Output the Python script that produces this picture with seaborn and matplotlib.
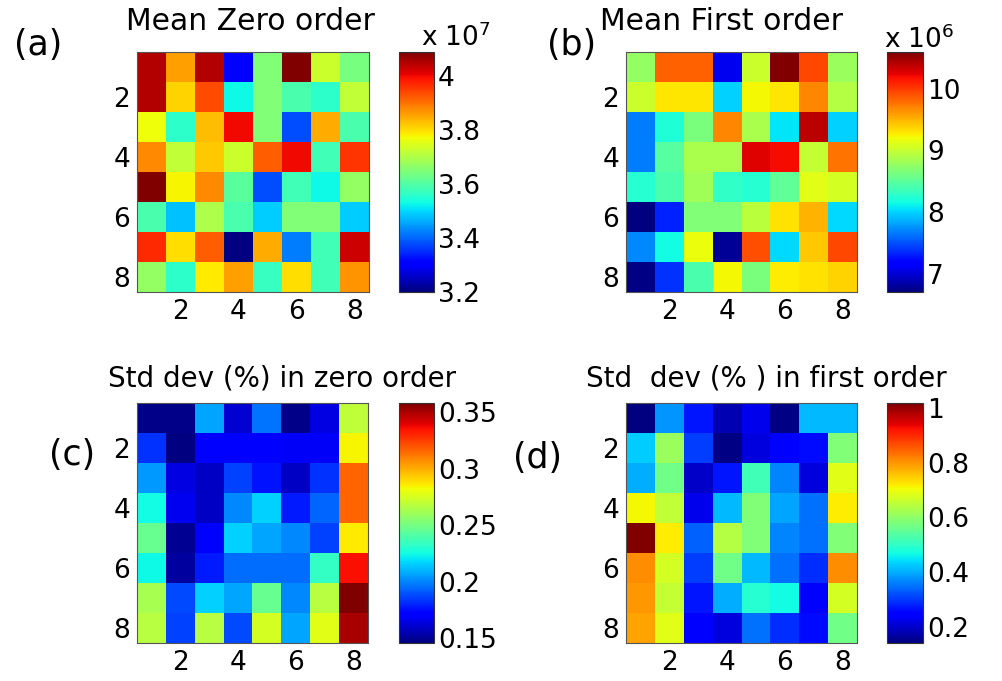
import numpy as np
import matplotlib
matplotlib.use("Agg")
import matplotlib.pyplot as plt
import seaborn as sns

# 8 x 8 detector pixel maps (rows top to bottom, columns left to right)
mean_zero_e7 = [
    [4.05, 3.86, 4.05, 3.30, 3.65, 4.09, 3.73, 3.64],
    [4.05, 3.81, 3.94, 3.53, 3.65, 3.59, 3.56, 3.72],
    [3.77, 3.56, 3.83, 4.00, 3.65, 3.38, 3.85, 3.59],
    [3.88, 3.72, 3.82, 3.73, 3.92, 4.00, 3.58, 3.96],
    [4.09, 3.78, 3.88, 3.61, 3.38, 3.58, 3.53, 3.67],
    [3.59, 3.48, 3.70, 3.59, 3.49, 3.65, 3.65, 3.49],
    [3.97, 3.80, 3.92, 3.20, 3.85, 3.42, 3.58, 4.03],
    [3.67, 3.56, 3.79, 3.86, 3.57, 3.80, 3.58, 3.87],
]
mean_first_e6 = [
    [8.76, 9.84, 9.84, 7.09, 9.03, 10.60, 9.96, 8.80],
    [9.03, 9.30, 9.30, 7.98, 9.22, 9.30, 9.69, 8.91],
    [7.67, 8.21, 8.64, 9.69, 8.87, 8.06, 10.39, 7.98],
    [7.67, 8.48, 8.87, 8.87, 10.27, 10.19, 8.99, 9.77],
    [8.25, 8.41, 8.83, 8.29, 8.25, 8.52, 9.13, 9.07],
    [6.70, 7.32, 8.68, 8.68, 8.95, 9.32, 9.51, 8.02],
    [7.71, 8.16, 9.18, 6.78, 9.92, 8.02, 9.42, 9.96],
    [6.72, 7.38, 8.41, 9.22, 8.64, 9.26, 9.32, 9.38],
]
std_zero = [
    [0.148, 0.148, 0.207, 0.161, 0.197, 0.148, 0.165, 0.269],
    [0.183, 0.146, 0.170, 0.170, 0.170, 0.169, 0.169, 0.284],
    [0.204, 0.165, 0.159, 0.186, 0.176, 0.159, 0.183, 0.316],
    [0.225, 0.167, 0.159, 0.201, 0.216, 0.178, 0.194, 0.316],
    [0.247, 0.150, 0.172, 0.216, 0.207, 0.201, 0.186, 0.286],
    [0.224, 0.152, 0.178, 0.195, 0.195, 0.195, 0.233, 0.335],
    [0.263, 0.188, 0.216, 0.207, 0.247, 0.201, 0.267, 0.358],
    [0.267, 0.186, 0.267, 0.188, 0.275, 0.207, 0.278, 0.350],
]
std_first = [
    [0.140, 0.378, 0.267, 0.179, 0.223, 0.144, 0.409, 0.409],
    [0.426, 0.612, 0.303, 0.144, 0.214, 0.245, 0.259, 0.585],
    [0.400, 0.568, 0.197, 0.267, 0.515, 0.365, 0.214, 0.687],
    [0.709, 0.652, 0.223, 0.409, 0.585, 0.391, 0.347, 0.718],
    [1.018, 0.718, 0.334, 0.638, 0.585, 0.365, 0.347, 0.585],
    [0.806, 0.674, 0.303, 0.568, 0.409, 0.347, 0.290, 0.806],
    [0.797, 0.656, 0.267, 0.400, 0.488, 0.466, 0.245, 0.674],
    [0.788, 0.687, 0.245, 0.214, 0.347, 0.290, 0.259, 0.568],
]

pixel_ticks = [2, 4, 6, 8]

cbar_ticks_a = [3.2, 3.4, 3.6, 3.8, 4.0]
cbar_labels_a = ["3.2", "3.4", "3.6", "3.8", "4"]
cbar_ticks_b = [7, 8, 9, 10]
cbar_labels_b = ["7", "8", "9", "10"]
cbar_ticks_c = [0.15, 0.20, 0.25, 0.30, 0.35]
cbar_labels_c = ["0.15", "0.2", "0.25", "0.3", "0.35"]
cbar_ticks_d = [0.2, 0.4, 0.6, 0.8, 1.0]
cbar_labels_d = ["0.2", "0.4", "0.6", "0.8", "1"]

sns.set_theme(style="white")
plt.rcParams["font.family"] = ["DejaVu Sans"]
plt.rcParams["text.color"] = "black"

W, H = 1003, 681
fig = plt.figure(figsize=(W / 100, H / 100), dpi=100)
fig.patch.set_facecolor("white")


def rect(x0, x1, y0, y1):
    return [x0 / W, 1 - y1 / H, (x1 - x0) / W, (y1 - y0) / H]


panels = [
    (mean_zero_e7, rect(137, 369, 52, 292), rect(399, 434, 52, 292), cbar_ticks_a, cbar_labels_a),
    (mean_first_e6, rect(626, 857, 52, 292), rect(887, 923, 52, 292), cbar_ticks_b, cbar_labels_b),
    (std_zero, rect(137, 368, 403, 643), rect(399, 434, 403, 643), cbar_ticks_c, cbar_labels_c),
    (std_first, rect(626, 857, 403, 643), rect(887, 923, 403, 643), cbar_ticks_d, cbar_labels_d),
]

FS = 19
for data, ax_rect, cax_rect, cticks, clabels in panels:
    arr = np.array(data)
    ax = fig.add_axes(ax_rect)
    cax = fig.add_axes(cax_rect)
    sns.heatmap(arr, ax=ax, cbar_ax=cax, cmap="jet",
                vmin=arr.min(), vmax=arr.max(),
                xticklabels=False, yticklabels=False)
    pos = [t - 0.5 for t in pixel_ticks]
    ax.set_xticks(pos)
    ax.set_xticklabels([str(t) for t in pixel_ticks])
    ax.set_yticks(pos)
    ax.set_yticklabels([str(t) for t in pixel_ticks], rotation=0)
    ax.tick_params(direction="in", top=True, bottom=True, left=True, right=True,
                   length=4, width=0.8, color="#222222", labelsize=FS,
                   labelcolor="black", pad=5)
    for sp in ax.spines.values():
        sp.set_visible(True)
        sp.set_color("#555555")
        sp.set_linewidth(0.8)

    cbar = ax.collections[0].colorbar
    cbar.set_ticks(cticks)
    cbar.set_ticklabels(clabels)
    cax.tick_params(direction="in", left=True, right=True, length=4, width=0.8,
                    color="#222222", labelsize=FS, labelcolor="black", pad=3)
    cbar.outline.set_edgecolor("#333333")
    cbar.outline.set_linewidth(0.8)

fig.text(250 / W, 1 - 21 / H, "Mean Zero order", ha="center", va="center", fontsize=21.5)
fig.text(722 / W, 1 - 21 / H, "Mean First order", ha="center", va="center", fontsize=21.5)
fig.text(282 / W, 1 - 378 / H, "Std dev (%) in zero order", ha="center", va="center", fontsize=20)
fig.text(766 / W, 1 - 378 / H, "Std  dev (% ) in first order", ha="center", va="center", fontsize=20)

fig.text(456 / W, 1 - 38 / H, "x 10$^{7}$", ha="center", va="center", fontsize=FS)
fig.text(919 / W, 1 - 40 / H, "x 10$^{6}$", ha="center", va="center", fontsize=FS)

lab_kw = dict(ha="center", va="center", fontsize=25, family=["DejaVu Sans"])
fig.text(38 / W, 1 - 45 / H, "(a)", **lab_kw)
fig.text(572 / W, 1 - 45 / H, "(b)", **lab_kw)
fig.text(72 / W, 1 - 455 / H, "(c)", **lab_kw)
fig.text(538 / W, 1 - 458 / H, "(d)", **lab_kw)

fig.savefig("out.png", dpi=100, facecolor="white")
